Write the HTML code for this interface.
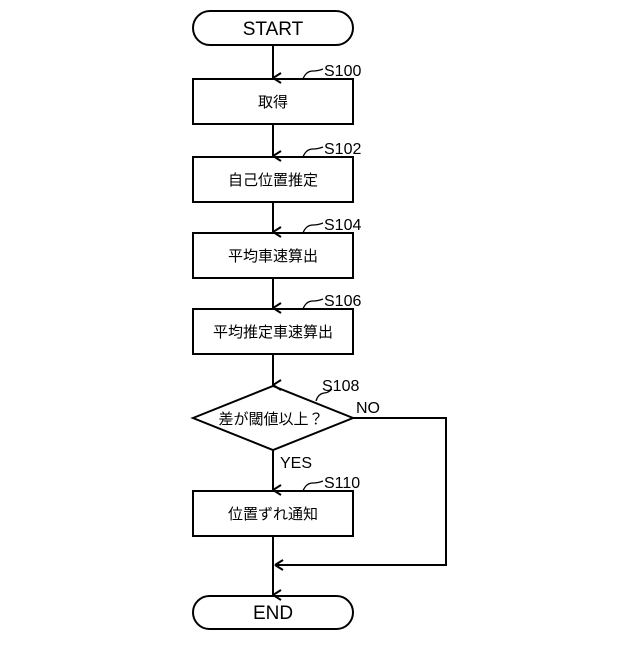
<!DOCTYPE html>
<html><head><meta charset="utf-8"><style>body{margin:0;background:#fff}</style></head><body>
<svg width="640" height="640" viewBox="0 0 640 640" xmlns="http://www.w3.org/2000/svg" font-family="Liberation Sans, Noto Sans CJK JP, sans-serif">
<defs><marker id="a" markerWidth="12" markerHeight="12" refX="6" refY="11" orient="auto" markerUnits="userSpaceOnUse"><path d="M1,3 L6,11 L11,3" fill="none" stroke="#000" stroke-width="2"/></marker>
<marker id="b" markerWidth="12" markerHeight="12" refX="1" refY="6" orient="auto-start-reverse" markerUnits="userSpaceOnUse"><path d="M9,1 L1,6 L9,11" fill="none" stroke="#000" stroke-width="2"/></marker></defs>
<g fill="none" stroke="#000" stroke-width="2">
<rect x="193" y="11" width="160" height="34" rx="17"/>
<rect x="193" y="79" width="160" height="45"/>
<rect x="193" y="157" width="160" height="45"/>
<rect x="193" y="233" width="160" height="45"/>
<rect x="193" y="309" width="160" height="45"/>
<path d="M193,418 L273,386 L353,418 L273,450 Z"/>
<rect x="193" y="491" width="160" height="45"/>
<rect x="193" y="596" width="160" height="33" rx="16.5"/>
<line x1="273" y1="45" x2="273" y2="78" marker-end="url(#a)"/>
<line x1="273" y1="124" x2="273" y2="156" marker-end="url(#a)"/>
<line x1="273" y1="202" x2="273" y2="232" marker-end="url(#a)"/>
<line x1="273" y1="278" x2="273" y2="308" marker-end="url(#a)"/>
<line x1="273" y1="354" x2="273" y2="385" marker-end="url(#a)"/>
<line x1="273" y1="450" x2="273" y2="490" marker-end="url(#a)"/>
<line x1="273" y1="536" x2="273" y2="595" marker-end="url(#a)"/>
<path d="M353,418 H446 V565 H275"/>
<path d="M275,565 l8,-5 M275,565 l8,5"/>
<g stroke-width="1.3">
<path d="M303,79 q3,-8 10,-8 q5,0 10,-2"/>
<path d="M303,157 q3,-8 10,-8 q5,0 10,-2"/>
<path d="M303,233 q3,-8 10,-8 q5,0 10,-2"/>
<path d="M303,309 q3,-8 10,-8 q5,0 10,-2"/>
<path d="M316,401 q2,-7 8,-8 q4,0 8,-4"/>
<path d="M303,491 q3,-8 10,-8 q5,0 10,-2"/>
</g></g>
<g font-size="19" text-anchor="middle" fill="#000">
<text x="273" y="35">START</text>
<text x="273" y="619">END</text>
</g>
<g font-size="16" fill="#000">
<text x="324" y="76">S100</text>
<text x="324" y="154">S102</text>
<text x="324" y="230">S104</text>
<text x="324" y="306">S106</text>
<text x="322" y="391">S108</text>
<text x="356" y="413">NO</text>
<text x="280" y="468">YES</text>
<text x="324" y="488">S110</text>
</g>
<g font-size="15" text-anchor="middle" fill="#000">
<text x="273" y="107">取得</text>
<text x="273" y="185">自己位置推定</text>
<text x="273" y="261">平均車速算出</text>
<text x="273" y="337">平均推定車速算出</text>
<text x="271" y="424">差が閾値以上？</text>
<text x="273" y="519">位置ずれ通知</text>
</g>
</svg>
</body></html>
